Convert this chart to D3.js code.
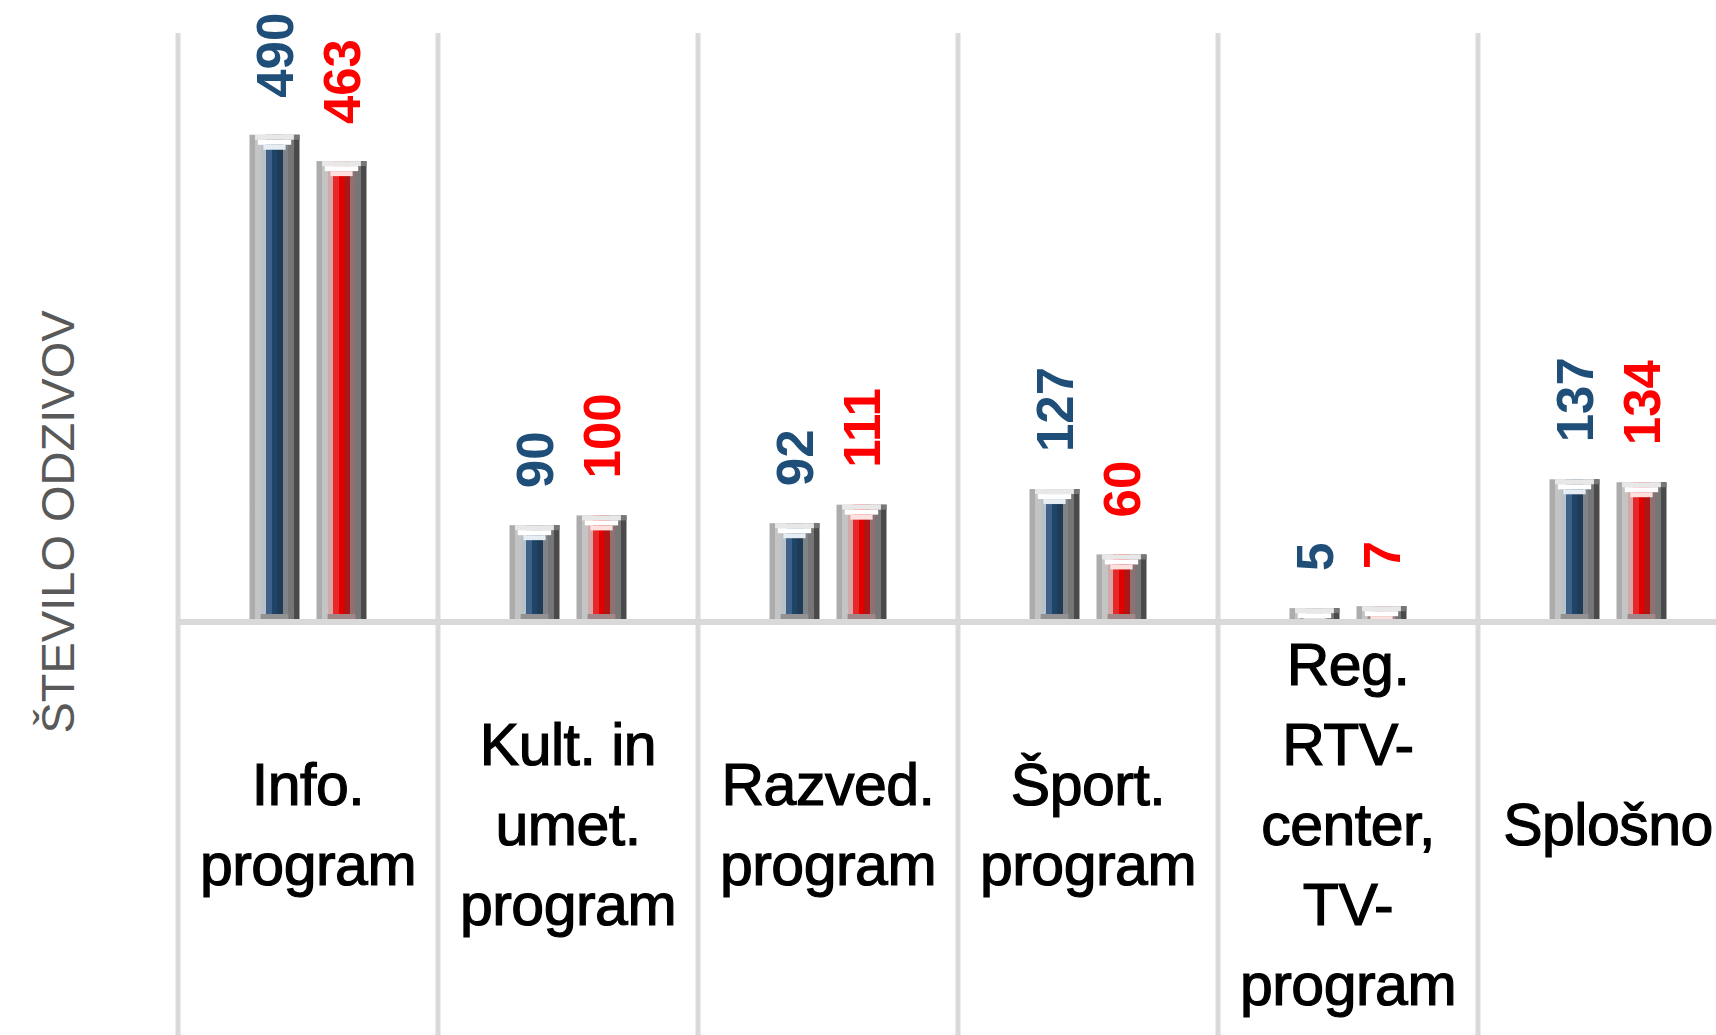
<!DOCTYPE html>
<html>
<head>
<meta charset="utf-8">
<script src="https://cdn.jsdelivr.net/npm/d3@7"></script>
<style>
  body { margin: 0; background: #fff; }
  svg { display: block; font-family: "Liberation Sans", Arial, sans-serif; }
</style>
</head>
<body>
<script>
var width = 1716,
    height = 1035;

// data
var categories = ["Info", "Kult", "Razved", "Sport", "Reg", "Splosno"];
var catLabels = [
  ["Info.", "program"],
  ["Kult. in", "umet.", "program"],
  ["Razved.", "program"],
  ["Šport.", "program"],
  ["Reg.", "RTV-", "center,", "TV-", "program"],
  ["Splošno"]
];
var seriesNames = ["s1", "s2"];
var blueValues = [490, 90, 92, 127, 5, 137];
var redValues = [463, 100, 111, 60, 7, 134];
var yTitle = "ŠTEVILO ODZIVOV";

var gridColor = "#d9d9d9",
    baseY = 622,
    bandW = 260,
    left = 178;

var svg = d3.select("body").append("svg")
    .attr("width", width)
    .attr("height", height);

var defs = svg.append("defs");

// cylinder-ish stripes, 9 columns per bar
var stripes = {
  s1: ["#acacac", "#c4c4c4", "#b8c0c8", "#3f6189", "#1e4468", "#1f3b58", "#808488", "#767676", "#4a4a4a"],
  s2: ["#acacac", "#c4c4c4", "#d4a8a8", "#e82828", "#e00000", "#b01515", "#907070", "#767676", "#4a4a4a"]
};
var capTint = { s1: "#e6edf3", s2: "#fde0e0" };
var labelColor = { s1: "#1f4e79", s2: "#ff0000" };

seriesNames.forEach(function(s) {
  var g = defs.append("linearGradient").attr("id", "grad-" + s)
      .attr("x1", "0").attr("x2", "1").attr("y1", "0").attr("y2", "0");
  stripes[s].forEach(function(c, i) {
    g.append("stop").attr("offset", i / 9).attr("stop-color", c);
    g.append("stop").attr("offset", (i + 1) / 9).attr("stop-color", c);
  });
});

var x0 = d3.scaleBand()
    .domain(categories)
    .range([left, left + bandW * categories.length])
    .padding(0);

var x1 = d3.scaleBand()
    .domain(seriesNames)
    .range([bandW / 2 - 58.5, bandW / 2 + 58.5])
    .paddingInner(17 / 67)
    .paddingOuter(0);

var y = d3.scaleLinear()
    .domain([0, 500])
    .range([baseY, 134]);

// vertical grid lines at category boundaries
var bounds = categories.map(function(c) { return x0(c); }).concat([x0.range()[1]]);
svg.append("g").attr("class", "grid")
  .selectAll("line").data(bounds)
  .enter().append("line")
    .attr("x1", d => d).attr("x2", d => d)
    .attr("y1", 33).attr("y2", height)
    .attr("stroke", gridColor)
    .attr("stroke-width", 5);

var rows = categories.map(function(c, i) {
  return { cat: c, vals: [
    { s: "s1", v: blueValues[i] },
    { s: "s2", v: redValues[i] }
  ]};
});

var groups = svg.append("g").attr("class", "bars")
  .selectAll("g").data(rows)
  .enter().append("g")
    .attr("transform", d => "translate(" + x0(d.cat) + ",0)");

var bars = groups.selectAll("g").data(d => d.vals)
  .enter().append("g")
    .attr("transform", d => "translate(" + x1(d.s) + ",0)");

var bw = x1.bandwidth(),
    col = bw / 9;

function topOf(d) { return y(d.v) - 9; }
function hgt(d) { return baseY - topOf(d); }

bars.append("rect")
    .attr("x", 0).attr("y", topOf)
    .attr("width", bw).attr("height", hgt)
    .attr("fill", d => "url(#grad-" + d.s + ")");

// bottom band
bars.append("rect")
    .attr("x", col * 2).attr("y", baseY - 8)
    .attr("width", col * 5).attr("height", 5)
    .attr("fill", d => d.s == "s1" ? "#939393" : "#a08888");

// top cap layers
bars.append("rect")
    .attr("x", col).attr("y", topOf)
    .attr("width", col * 7).attr("height", d => Math.min(5, hgt(d)))
    .attr("fill", "#e8e8e8");
bars.append("rect")
    .attr("x", col * 8).attr("y", topOf)
    .attr("width", col).attr("height", 5)
    .attr("fill", "#777");
bars.append("rect")
    .attr("x", col * 1.5).attr("y", d => topOf(d) + 5)
    .attr("width", col * 6).attr("height", d => Math.max(0, Math.min(5, hgt(d) - 5)))
    .attr("fill", "#ffffff");
bars.append("rect")
    .attr("x", col * 2.5).attr("y", d => topOf(d) + 10)
    .attr("width", col * 4).attr("height", d => Math.max(0, Math.min(5, hgt(d) - 13)))
    .attr("fill", d => capTint[d.s]);

// value labels, rotated
bars.append("text")
    .attr("transform", d => "translate(" + (bw / 2) + "," + (topOf(d) - 37) + ") rotate(-90)")
    .attr("dy", "0.36em")
    .attr("text-anchor", "start")
    .attr("font-size", 51)
    .attr("font-weight", "bold")
    .attr("fill", d => labelColor[d.s])
    .text(d => d.v);

// baseline
svg.append("line")
    .attr("x1", left).attr("x2", width)
    .attr("y1", baseY).attr("y2", baseY)
    .attr("stroke", gridColor)
    .attr("stroke-width", 6);

// category labels
var lineH = 80, midBase = 845;
svg.append("g").attr("class", "cats")
  .selectAll("text").data(categories)
  .enter().append("text")
    .attr("x", d => x0(d) + bandW / 2)
    .attr("text-anchor", "middle")
    .attr("font-size", 59)
    .attr("fill", "#000")
    .attr("stroke", "#000")
    .attr("stroke-width", 1.2)
    .attr("letter-spacing", -0.5)
    .each(function(d, i) {
      var lines = catLabels[i];
      var n = lines.length;
      d3.select(this).selectAll("tspan").data(lines)
        .enter().append("tspan")
          .attr("x", x0(d) + bandW / 2)
          .attr("y", (t, j) => midBase + (j - (n - 1) / 2) * lineH)
          .text(t => t);
    });

// y axis title
svg.append("text")
    .attr("transform", "translate(74,522) rotate(-90)")
    .attr("text-anchor", "middle")
    .attr("font-size", 47)
    .attr("fill", "#595959")
    .text(yTitle);
</script>
</body>
</html>
